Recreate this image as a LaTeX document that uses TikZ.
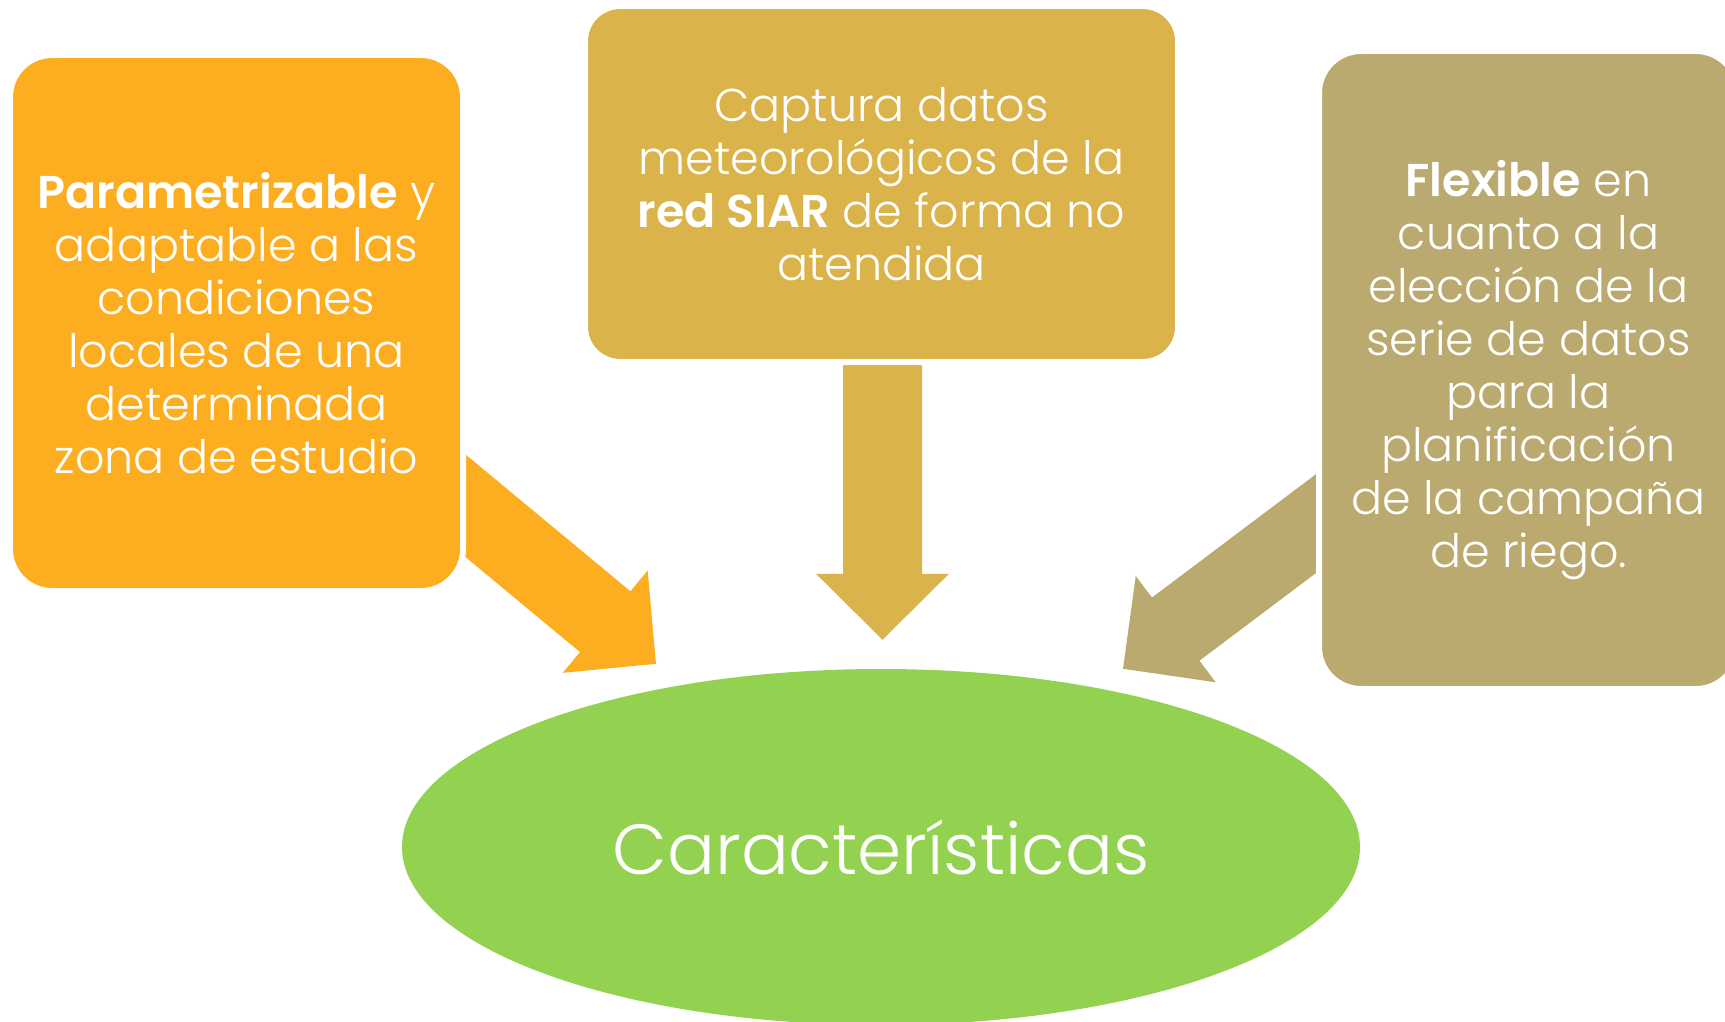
\documentclass[tikz,border=0pt]{standalone}
\usepackage{fontspec}
\setmainfont{Poppins}[UprightFont={* Light}, BoldFont={* SemiBold}]
\usetikzlibrary{calc}
\usetikzlibrary{positioning}
\usetikzlibrary{shapes.geometric}
\usetikzlibrary{backgrounds}
\definecolor{parorange}{HTML}{FDAE20}
\definecolor{siargold}{HTML}{DBB34B}
\definecolor{flexkhaki}{HTML}{BAAA6F}
\definecolor{caracgreen}{HTML}{93D251}
\tikzset{featbox/.style={rectangle, rounded corners=42pt, draw=white, line width=6pt,
    inner sep=0pt, text=white, align=center, font=\fontsize{46}{53}\selectfont}}
\tikzset{hub/.style={ellipse, fill=caracgreen, inner sep=0pt, text=white,
    minimum width=958pt, minimum height=356pt, font=\fontsize{71}{80}\selectfont}}
\newcommand{\blockarrow}[3]{
    \coordinate (neck) at ($(#2)!66pt!(#1)$);
    \fill[#3] ($(#1)!39.5pt!90:(#2)$) -- ($(neck)!39.5pt!90:(#2)$)
        -- ($(neck)!66.5pt!90:(#2)$) -- (#2)
        -- ($(neck)!66.5pt!-90:(#2)$) -- ($(neck)!39.5pt!-90:(#2)$)
        -- ($(#1)!39.5pt!-90:(#2)$) -- cycle;
}

\begin{document}
\begin{tikzpicture}[x=1pt,y=-1pt]
        \useasboundingbox (0,0) rectangle (1725,1022);
        \clip (0,0) rectangle (1725,1022);

        \node[featbox, fill=parorange, minimum width=453pt, minimum height=536pt] (param) at (236.5,323)
            {\textbf{Parametrizable} y\\adaptable a las\\condiciones\\locales de una\\determinada\\zona de estudio};
        \node[featbox, rounded corners=35pt, fill=siargold, minimum width=593pt, minimum height=356pt] (captura) at (881.5,184)
            {Captura datos\\meteorológicos de la\\\textbf{red SIAR} de forma no\\atendida};
        \node[featbox, fill=flexkhaki, minimum width=419pt, minimum height=638pt] (flex) at (1528.5,370)
            {\textbf{Flexible} en\\cuanto a la\\elección de la\\serie de datos\\para la\\planificación\\de la campaña\\de riego.};
        \node[hub] (carac) at (881,847) {Características};

        \coordinate (ltail) at ($(param.east)+(-40,150)$);
        \coordinate (ltip) at ($(carac.north)+(-225,-5)$);
        \coordinate (mtail) at ($(captura.south)+(1,-19)$);
        \coordinate (mtip) at ($(carac.north)+(1.5,-29)$);
        \coordinate (rtail) at ($(flex.west)+(38,125)$);
        \coordinate (rtip) at ($(carac.north)+(242,0)$);

        \begin{scope}[on background layer]
            \blockarrow{ltail}{ltip}{parorange}
            \blockarrow{mtail}{mtip}{siargold}
            \blockarrow{rtail}{rtip}{flexkhaki}
        \end{scope}
    \end{tikzpicture}
\end{document}
